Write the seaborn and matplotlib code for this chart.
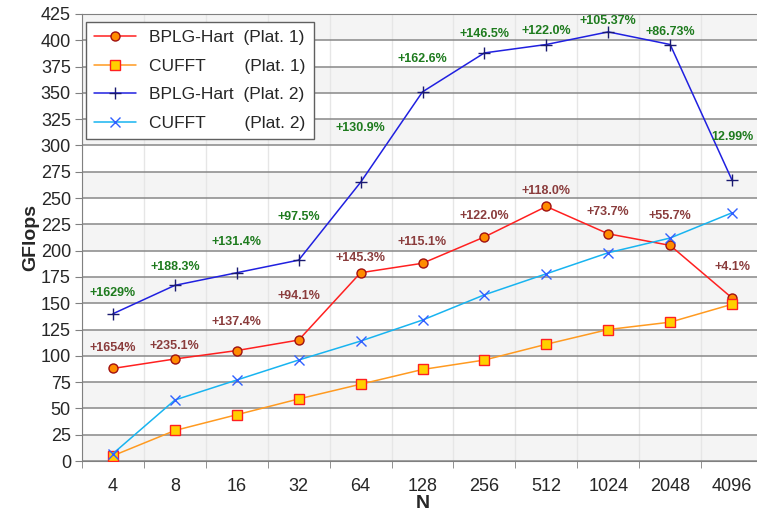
import pandas as pd
import seaborn as sns
import matplotlib.pyplot as plt
from matplotlib.ticker import FixedLocator

# 数据
categories = ['4', '8', '16', '32', '64', '128', '256', '512', '1024', '2048', '4096']
bplg_p1 = [88, 97, 105, 115, 179, 188, 213, 242, 216, 205, 155]
cufft_p1 = [5, 29, 44, 59, 73, 87, 96, 111, 125, 132, 149]
bplg_p2 = [140, 167, 179, 191, 265, 351, 388, 396, 408, 396, 267]
cufft_p2 = [7, 58, 77, 96, 114, 134, 158, 178, 198, 212, 236]

labels_p1 = ['+1654%', '+235.1%', '+137.4%', '+94.1%', '+145.3%', '+115.1%',
             '+122.0%', '+118.0%', '+73.7%', '+55.7%', '+4.1%']
labels_p2 = ['+1629%', '+188.3%', '+131.4%', '+97.5%', '+130.9%', '+162.6%',
             '+146.5%', '+122.0%', '+105.37%', '+86.73%', '12.99%']
# 标签相对数据点的偏移 (数据单位)
offs_p1 = [19.5, 12.5, 27, 42, 14, 20, 20, 15, 21, 28, 29]
offs_p2 = [20, 17, 29, 41, 52, 31, 18, 13, 10, 12, 41]

sns.set_style('white')
plt.rcParams['font.family'] = ['Liberation Sans', 'DejaVu Sans']

df = pd.DataFrame({'N': categories, 'b1': bplg_p1, 'c1': cufft_p1,
                   'b2': bplg_p2, 'c2': cufft_p2})

fig = plt.figure(figsize=(7.57, 5.20), dpi=100)
ax = fig.add_axes([82 / 757, 59 / 520, 681 / 757, 447 / 520])

# 背景条纹
for y0 in range(0, 425, 50):
    ax.axhspan(y0, y0 + 25, color='#f4f4f4', zorder=0, lw=0)

sns.lineplot(data=df, x='N', y='b1', sort=False, ax=ax, color='#ff2020', lw=1.1,
             marker='o', markersize=6.5, markerfacecolor='#ff8c00',
             markeredgecolor='#a01010', markeredgewidth=1.0,
             label='BPLG-Hart  (Plat. 1)', zorder=4)
sns.lineplot(data=df, x='N', y='c1', sort=False, ax=ax, color='#ff9a20', lw=1.1,
             marker='s', markersize=6.5, markerfacecolor='#ffd000',
             markeredgecolor='#ff2020', markeredgewidth=1.0,
             label='CUFFT        (Plat. 1)', zorder=4)
sns.lineplot(data=df, x='N', y='b2', sort=False, ax=ax, color='#2020e0', lw=1.1,
             marker='+', markersize=8, markeredgecolor='#1a1a70',
             markeredgewidth=1.0, label='BPLG-Hart  (Plat. 2)', zorder=4)
sns.lineplot(data=df, x='N', y='c2', sort=False, ax=ax, color='#18b4f0', lw=1.1,
             marker='x', markersize=7, markeredgecolor='#3060ff',
             markeredgewidth=1.0, label='CUFFT        (Plat. 2)', zorder=4)

# 百分比标签
for i, (v, t, o) in enumerate(zip(bplg_p2, labels_p2, offs_p2)):
    ax.text(i, v + o, t, ha='center', va='center', fontsize=9,
            fontweight='bold', color='#1e7b1e', zorder=5)
for i, (v, t, o) in enumerate(zip(bplg_p1, labels_p1, offs_p1)):
    ax.text(i, v + o, t, ha='center', va='center', fontsize=9,
            fontweight='bold', color='#8a3c3c', zorder=5)

# 坐标轴
ax.set_xlim(-0.5, 10.5)
ax.set_ylim(0, 425)
ax.set_yticks(range(0, 426, 25))
ax.xaxis.set_minor_locator(FixedLocator([i - 0.5 for i in range(len(categories) + 1)]))
ax.tick_params(axis='x', which='major', length=0, labelsize=13, pad=12)
ax.tick_params(axis='x', which='minor', length=5, direction='out', color='#808080', bottom=True)
ax.tick_params(axis='y', length=5, direction='out', color='#808080', labelsize=13, left=True, pad=3)
ax.grid(axis='y', which='major', color='#888888', lw=1.1)
ax.grid(axis='x', which='minor', color='#e6e6e6', lw=1.0)
ax.set_axisbelow(True)
for s in ax.spines.values():
    s.set_color('#808080')

ax.set_xlabel('N', fontsize=14, fontweight='bold', labelpad=0)
ax.set_ylabel('GFlops', fontsize=14, fontweight='bold', labelpad=1)

leg = ax.legend(loc='upper left', bbox_to_anchor=(0.006, 0.982), borderaxespad=0,
                fontsize=12.5, handlelength=2.4, labelspacing=0.78, borderpad=0.45,
                fancybox=False, framealpha=1, edgecolor='#606060')
leg.get_frame().set_linewidth(1.0)

fig.savefig('out.png', dpi=100)
